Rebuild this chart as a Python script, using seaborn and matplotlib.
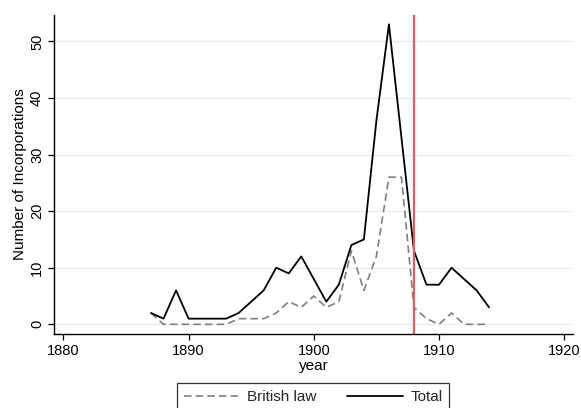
import matplotlib
matplotlib.use("Agg")
import matplotlib.pyplot as plt
from matplotlib.lines import Line2D
import seaborn as sns
import pandas as pd

# Annual incorporations, 1887-1914
years = list(range(1887, 1915))
total = [2, 1, 6, 1, 1, 1, 1, 2, 4, 6, 10, 9, 12, 8, 4, 7, 14, 15, 36, 53, 33, 13, 7, 7, 10, 8, 6, 3]
british_law = [2, 0, 0, 0, 0, 0, 0, 1, 1, 1, 2, 4, 3, 5, 3, 4, 13, 6, 12, 26, 26, 3, 1, 0, 2, 0, 0, 0]
cutoff_year = 1908

x_ticks = [1880, 1890, 1900, 1910, 1920]
y_ticks = [0, 10, 20, 30, 40, 50]

df = pd.DataFrame({"year": years, "Total": total, "British law": british_law})

sns.set_theme(style="white")
plt.rcParams["font.family"] = ["Liberation Sans", "DejaVu Sans"]

dash = (0, (4.5, 2.5))

fig = plt.figure(figsize=(5.81, 4.08), dpi=100)
ax = fig.add_axes([53.7 / 581, 1 - 334 / 408, (573 - 53.7) / 581, (334 - 15) / 408])

sns.lineplot(data=df, x="year", y="British law", ax=ax, color="#7f7f7f",
             linewidth=1.2, linestyle=dash)
sns.lineplot(data=df, x="year", y="Total", ax=ax, color="black", linewidth=1.3)
ax.axvline(cutoff_year, color="#ff5050", linewidth=1.5)

ax.set_xlim(1879.23, 1920.7)
ax.set_ylim(-1.71, 54.65)
ax.set_xticks(x_ticks)
ax.set_yticks(y_ticks)
ax.set_yticklabels([str(v) for v in y_ticks], rotation=90, va="center")

ax.grid(axis="y", color="#e6eef0", linewidth=1.0)
ax.grid(axis="x", visible=False)
ax.set_axisbelow(True)

for side in ["top", "right"]:
    ax.spines[side].set_visible(False)
for side in ["left", "bottom"]:
    ax.spines[side].set_color("black")
    ax.spines[side].set_linewidth(1.0)

ax.tick_params(axis="both", direction="out", length=4, width=0.9, color="black",
               labelsize=10.5, labelcolor="black", pad=3, left=True, bottom=True)
ax.set_xlabel("year", fontsize=11, color="black", labelpad=1)
ax.set_ylabel("Number of Incorporations", fontsize=11, color="black", labelpad=2)

handles = [Line2D([], [], color="#7f7f7f", linewidth=1.2, linestyle=dash),
           Line2D([], [], color="black", linewidth=1.3)]
leg = fig.legend(handles, ["British law", "Total"], loc="upper center",
                 bbox_to_anchor=(313 / 581, 1 - 383 / 408), ncol=2, frameon=True,
                 fontsize=11, handlelength=3.7, columnspacing=2.0, handletextpad=0.45,
                 fancybox=False, borderpad=0.45, borderaxespad=0)
leg.get_frame().set_edgecolor("black")
leg.get_frame().set_linewidth(0.9)

fig.savefig("out.png", dpi=100)
